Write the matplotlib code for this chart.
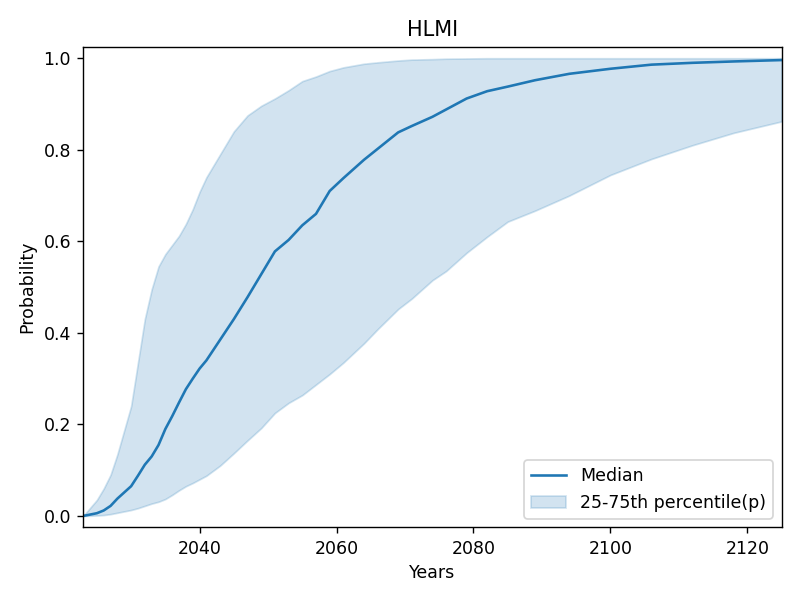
import numpy as np
import matplotlib
matplotlib.use("Agg")
import matplotlib.pyplot as plt


# values
years = [2023, 2025, 2026, 2027, 2028, 2030, 2031, 2032, 2033, 2034, 2035, 2036,
         2037, 2038, 2039, 2040, 2041, 2043, 2045, 2047, 2049, 2051, 2053, 2055,
         2057, 2059, 2061, 2064, 2066, 2069, 2071, 2074, 2076, 2079, 2082, 2085,
         2089, 2094, 2100, 2106, 2112, 2118, 2125]

median = [0.0, 0.006, 0.012, 0.022, 0.038, 0.065, 0.088, 0.112, 0.130, 0.155, 0.190,
          0.218, 0.248, 0.277, 0.300, 0.322, 0.340, 0.385, 0.430, 0.478, 0.528, 0.578,
          0.603, 0.635, 0.660, 0.710, 0.738, 0.778, 0.802, 0.838, 0.852, 0.872, 0.888,
          0.912, 0.928, 0.938, 0.952, 0.966, 0.977, 0.986, 0.990, 0.993, 0.996]

p75 = [0.0, 0.035, 0.060, 0.090, 0.135, 0.240, 0.335, 0.430, 0.495, 0.545, 0.572,
       0.592, 0.612, 0.638, 0.670, 0.708, 0.740, 0.790, 0.840, 0.875, 0.896, 0.912,
       0.930, 0.950, 0.960, 0.972, 0.980, 0.988, 0.991, 0.995, 0.997, 0.998, 0.999,
       0.9995, 1.0, 1.0, 1.0, 1.0, 1.0, 1.0, 1.0, 1.0, 1.0]

p25 = [0.0, 0.001, 0.002, 0.004, 0.007, 0.013, 0.017, 0.022, 0.027, 0.031, 0.037,
       0.046, 0.056, 0.065, 0.072, 0.080, 0.088, 0.110, 0.137, 0.165, 0.192, 0.225,
       0.247, 0.264, 0.287, 0.310, 0.335, 0.377, 0.408, 0.452, 0.475, 0.515, 0.535,
       0.575, 0.610, 0.643, 0.667, 0.700, 0.745, 0.780, 0.810, 0.837, 0.862]


fig, ax = plt.subplots(figsize=(6.4, 4.8), dpi=125)
fig.subplots_adjust(left=0.104, right=0.977, top=0.922, bottom=0.121)

ax.plot(years, median, color="C0", label="Median")
ax.fill_between(years, p25, p75, color="C0", alpha=0.2, label="25-75th percentile(p)")

ax.set_xlim(years[0], years[-1])
ax.set_ylim(-0.025, 1.025)
ax.set_title("HLMI")
ax.set_xlabel("Years")
ax.set_ylabel("Probability")
ax.legend(loc="lower right")

fig.savefig("out.png")
